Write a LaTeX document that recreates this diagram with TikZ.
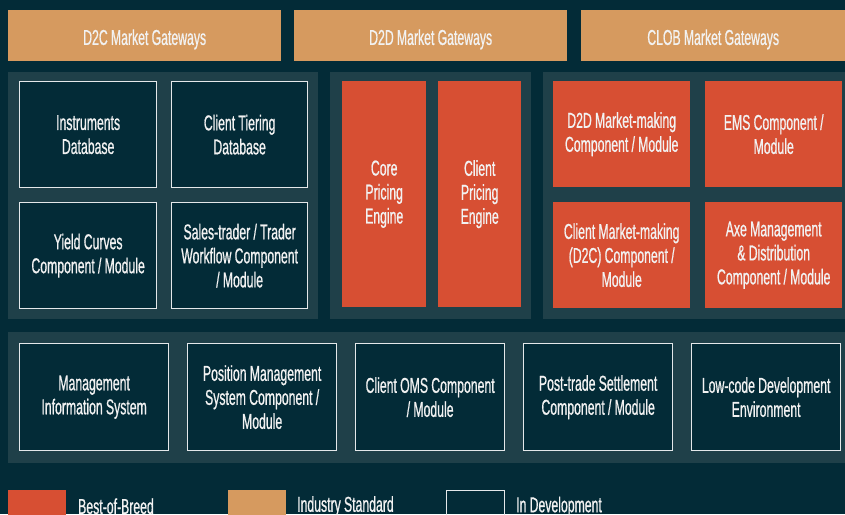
\documentclass[tikz,border=0pt]{standalone}
\usepackage{fontspec}
\setmainfont{Liberation Sans}[FakeStretch=0.57, WordSpace=0.95, FakeBold=0.7]
\usepackage{tikz}
\usetikzlibrary{positioning}
\definecolor{bgdark}{HTML}{032B37}
\definecolor{panelgrey}{HTML}{1F4049}
\definecolor{stdtan}{HTML}{D69A5F}
\definecolor{breedred}{HTML}{D74F33}
\definecolor{textwhite}{HTML}{F2F2F2}
\definecolor{boxline}{HTML}{E4E8EA}
\tikzset{
	panel/.style    = {fill=panelgrey, anchor=north west, inner sep=0pt},
	gateway/.style  = {fill=stdtan, anchor=north west, minimum height=51pt,
		minimum width=273pt, inner sep=0pt, text height=18.4pt, text depth=0pt},
	breed/.style    = {fill=breedred, anchor=north west, inner sep=2pt},
	devbox/.style   = {draw=boxline, line width=1.3pt, fill=bgdark,
		anchor=north west, inner sep=2pt},
	legend/.style   = {anchor=north west, minimum width=58pt, minimum height=26pt,
		inner sep=0pt},
	caption/.style  = {anchor=west, inner sep=0pt}
}
\newcommand{\boxfont}{\fontsize{21.5}{24}\selectfont}

\begin{document}
\begin{tikzpicture}[x=1pt, y=-1pt, node distance=12pt, font=\boxfont,
	text=textwhite, align=center]
	\useasboundingbox (0,0) rectangle (845,514);
	\fill[bgdark] (0,0) rectangle (845,514);

	% gateways along the top
	\draw
	node at (8,10)[gateway] (d2c) {D2C Market Gateways}
	node at (294,10)[gateway] (d2d) {D2D Market Gateways}
	node at (581,10)[gateway, minimum width=264pt] (clob) {CLOB Market Gateways};

	% grey panels
	\draw
	node at (8,72)[panel, minimum width=310pt, minimum height=247pt] (pleft) {}
	node at (330,72)[panel, minimum width=201pt, minimum height=247pt] (pmid) {}
	node at (543,72)[panel, minimum width=302pt, minimum height=247pt] (pright) {}
	node at (8,332)[panel, minimum width=837pt, minimum height=131pt] (pbottom) {};

	% left panel
	\draw
	node at (19,81)[devbox, minimum width=137pt, minimum height=106pt] (instr) {Instruments\\Database}
	node at (171,81)[devbox, minimum width=136pt, minimum height=106pt] (tier) {Client Tiering\\Database}
	node at (19,202)[devbox, minimum width=137pt, minimum height=106pt] (yield) {Yield Curves\\Component / Module}
	node at (171,202)[devbox, minimum width=136pt, minimum height=106pt] (sales) {Sales-trader / Trader\\Workflow Component\\/ Module};

	% pricing engines
	\draw
	node at (342,81)[breed, minimum width=84pt, minimum height=226pt] (core) {Core\\Pricing\\Engine}
	node at (438,81)[breed, minimum width=83pt, minimum height=226pt] (cpe) {Client\\Pricing\\Engine};

	% right panel
	\draw
	node at (553,81)[breed, minimum width=137pt, minimum height=106pt] (mm) {D2D Market-making\\Component / Module}
	node at (705,81)[breed, minimum width=137pt, minimum height=106pt] (ems) {EMS Component /\\Module}
	node at (553,202)[breed, minimum width=137pt, minimum height=106pt] (cmm) {Client Market-making\\(D2C) Component /\\Module}
	node at (705,202)[breed, minimum width=137pt, minimum height=106pt] (axe) {Axe Management\\\& Distribution\\Component / Module};

	% bottom row
	\draw
	node at (19,343)[devbox, minimum width=149pt, minimum height=107pt] (mis) {Management\\Information System}
	node at (187,343)[devbox, minimum width=149pt, minimum height=107pt] (pms) {Position Management\\System Component /\\Module}
	node at (355,343)[devbox, minimum width=149pt, minimum height=107pt] (oms) {Client OMS Component\\/ Module}
	node at (523,343)[devbox, minimum width=149pt, minimum height=107pt] (post) {Post-trade Settlement\\Component / Module}
	node at (691,343)[devbox, minimum width=149pt, minimum height=107pt] (lowcode) {Low-code Development\\Environment};

	% legend
	\draw
	node at (8,490)[legend, fill=breedred] (lbob) {}
	node at (228,490)[legend, fill=stdtan] (lstd) {}
	node at (446,490)[legend, draw=boxline, line width=1.3pt] (ldev) {};
	\node[caption, right=12pt of lbob.west, yshift=-3pt, xshift=58pt] (tbob) {Best-of-Breed};
	\node[caption, right=11pt of lstd.west, yshift=-3pt, xshift=58pt] (tstd) {Industry Standard};
	\node[caption, right=12pt of ldev.west, yshift=-3pt, xshift=58pt] (tdev) {In Development};
\end{tikzpicture}
\end{document}
